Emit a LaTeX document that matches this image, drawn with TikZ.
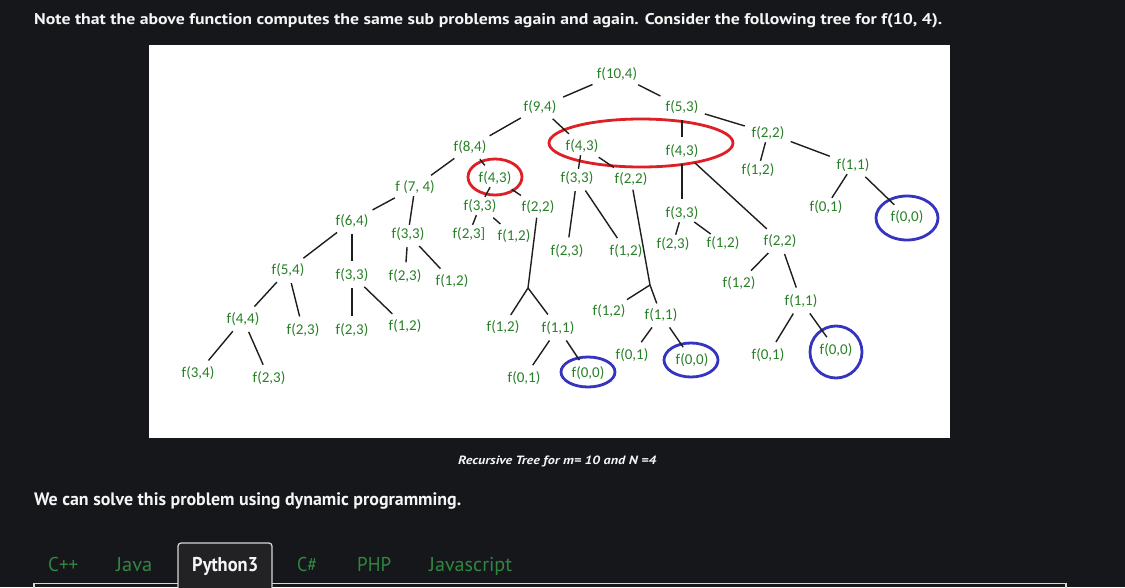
\documentclass[tikz,border=0pt]{standalone}
\usepackage{fontspec}
\usepackage{graphicx}
\setmainfont{PT Sans}
\newfontfamily\treefont{Carlito}
\newfontfamily\uifont{PT Sans}
\newcommand{\mywidthfit}[2]{\resizebox{#1}{\height}{#2}}
\definecolor{bgcol}{RGB}{22,23,27}
\definecolor{uiwhite}{RGB}{245,245,245}
\definecolor{tabgreen}{RGB}{48,135,66}
\definecolor{tabfill}{RGB}{34,34,37}
\definecolor{tabline}{RGB}{215,215,215}
\definecolor{treegreen}{RGB}{40,128,40}
\definecolor{edgecol}{RGB}{30,30,30}
\definecolor{ringred}{RGB}{222,32,38}
\definecolor{ringblue}{RGB}{52,52,192}
\tikzset{
  lab/.style={inner sep=2pt, text=treegreen, font=\treefont\fontsize{15}{17}\selectfont},
  edge/.style={draw=edgecol, line width=1.4pt, shorten <=4.5pt, shorten >=5pt},
  shortedge/.style={draw=edgecol, line width=1.4pt, shorten <=0.5pt, shorten >=0.5pt},
  jedge/.style={draw=edgecol, line width=1.4pt},
  redring/.style={draw=ringred, line width=2.8pt},
  bluering/.style={draw=ringblue, line width=2.8pt},
  uitext/.style={inner sep=0pt, anchor=base west, text=uiwhite},
  tabtext/.style={inner sep=0pt, anchor=base west, text=tabgreen, font=\uifont\fontsize{20}{22}\selectfont},
}
\begin{document}
\begin{tikzpicture}[x=1pt,y=-1pt]
\useasboundingbox (0,0) rectangle (1125,587);
\fill[bgcol] (0,0) rectangle (1125,587);
\fill[white] (149,45) rectangle (950,438);

% header texts
\node[uitext] (title) at (34,24) {\mywidthfit{908pt}{\bfseries\fontsize{15.5}{18}\selectfont Note that the above function computes the same sub problems again and again. Consider the following tree for f(10, 4).}};
\node[uitext] (caption) at (458,464) {\mywidthfit{198pt}{\bfseries\itshape\fontsize{12}{14}\selectfont Recursive Tree for m= 10 and N =4}};
\node[uitext] (dp) at (34,505) {\mywidthfit{427pt}{\bfseries\fontsize{18}{20}\selectfont We can solve this problem using dynamic programming.}};

% tabs
\draw[tabline, line width=1.2pt] (34,595) -- (34,583.5) -- (178,583.5);
\filldraw[draw=tabline, fill=tabfill, line width=1.2pt, rounded corners=3pt] (178,590) -- (178,543) -- (272,543) -- (272,590);
\draw[tabline, line width=1.2pt] (272,583.5) -- (1066,583.5) -- (1066,595);
\node[tabtext] (tcpp) at (48,571) {\mywidthfit{30pt}{C++}};
\node[tabtext] (tjava) at (116,571) {\mywidthfit{36pt}{Java}};
\node[uitext] (tpy) at (192,571) {\mywidthfit{66pt}{\bfseries\fontsize{20}{22}\selectfont Python3}};
\node[tabtext] (tcs) at (297,571) {\mywidthfit{20pt}{C\#}};
\node[tabtext] (tphp) at (357,571) {\mywidthfit{34pt}{PHP}};
\node[tabtext] (tjs) at (429,571) {\mywidthfit{83pt}{Javascript}};

% tree labels
\node[lab] (n104) at (617,74) {f(10,4)};
\node[lab] (n94) at (540,107) {f(9,4)};
\node[lab] (n53) at (682,107) {f(5,3)};
\node[lab] (n84) at (470,147) {f(8,4)};
\node[lab] (a43) at (582,146) {f(4,3)};
\node[lab] (b43) at (682,151) {f(4,3)};
\node[lab] (c22) at (768,133) {f(2,2)};
\node[lab] (c12) at (758,170) {f(1,2)};
\node[lab] (c11) at (853,165) {f(1,1)};
\node[lab] (c01) at (826,207) {f(0,1)};
\node[lab] (c00) at (907,217) {f(0,0)};
\node[lab] (n74) at (415,187) {f (7, 4)};
\node[lab] (s43) at (495,178) {f(4,3)};
\node[lab] (a33) at (577,178) {f(3,3)};
\node[lab] (a22) at (631,179) {f(2,2)};
\node[lab] (s33) at (480,206) {f(3,3)};
\node[lab] (s22) at (538,207) {f(2,2)};
\node[lab] (n64) at (352,221) {f(6,4)};
\node[lab] (b33) at (682,213) {f(3,3)};
\node[lab] (t33) at (408,234) {f(3,3)};
\node[lab] (s23) at (469,234) {f(2,3]};
\node[lab] (s12) at (514,236) {f(1,2)};
\node[lab] (a23) at (567,251) {f(2,3)};
\node[lab] (a12) at (626,251) {f(1,2)};
\node[lab] (b23) at (673,244) {f(2,3)};
\node[lab] (b12) at (723,243) {f(1,2)};
\node[lab] (b22) at (780,241) {f(2,2)};
\node[lab] (n54) at (288,270) {f(5,4)};
\node[lab] (u33) at (352,275) {f(3,3)};
\node[lab] (t23) at (405,276) {f(2,3)};
\node[lab] (t12) at (452,281) {f(1,2)};
\node[lab] (d12) at (739,283) {f(1,2)};
\node[lab] (a12b) at (609,311) {f(1,2)};
\node[lab] (a11) at (661,315) {f(1,1)};
\node[lab] (d11) at (801,301) {f(1,1)};
\node[lab] (n44) at (243,319) {f(4,4)};
\node[lab] (n23) at (303,330) {f(2,3)};
\node[lab] (u23) at (352,330) {f(2,3)};
\node[lab] (u12) at (405,326) {f(1,2)};
\node[lab] (s12b) at (503,327) {f(1,2)};
\node[lab] (s11) at (558,328) {f(1,1)};
\node[lab] (a01) at (632,355) {f(0,1)};
\node[lab] (a00) at (692,360) {f(0,0)};
\node[lab] (d01) at (768,355) {f(0,1)};
\node[lab] (d00) at (836,350) {f(0,0)};
\node[lab] (n34) at (198,373) {f(3,4)};
\node[lab] (m23) at (269,378) {f(2,3)};
\node[lab] (s01) at (524,378) {f(0,1)};
\node[lab] (s00) at (588,373) {f(0,0)};

\coordinate (j1) at (528,288);
\coordinate (j2) at (650,285);

% rings
\draw[redring] (641,143) ellipse [x radius=92pt, y radius=24pt];
\draw[redring] (495,177) ellipse [x radius=27pt, y radius=18pt];
\draw[bluering] (907,218) ellipse [x radius=31pt, y radius=22pt];
\draw[bluering] (691,360) ellipse [x radius=27pt, y radius=17pt];
\draw[bluering] (588,372) ellipse [x radius=27pt, y radius=15pt];
\draw[bluering] (836,352) circle [radius=26pt];

% edges
\foreach \p/\c in {n104/n94, n104/n53, n94/n84, n94/a43, n53/b43, n53/c22,
  c22/c11, c11/c00, n84/n74, n84/s43, a43/a22,
  b43/b33, b43/b22, n74/n64, s43/s22, a33/a23, a33/a12,
  b22/d12, b22/d11, d11/d01, d11/d00, a11/a01, a11/a00,
  s11/s01, s11/s00, n64/n54, n64/u33, t33/t23, t33/t12, s33/s12,
  n54/n44, n54/n23, u33/u23, u33/u12, n44/n34, n44/m23}
  \draw[edge] (\p) -- (\c);
\foreach \p/\c in {a43/a33, s43/s33, s33/s23, b33/b23, b33/b12, c22/c12, c11/c01, n74/t33}
  \draw[shortedge] (\p) -- (\c);
\draw[jedge, shorten <=2pt] (s22) -- (j1);
\draw[jedge, shorten >=4pt] (j1) -- (s12b);
\draw[jedge, shorten >=6pt] (j1) -- (s11);
\draw[jedge, shorten <=2pt] (a22) -- (j2);
\draw[jedge, shorten >=5pt] (j2) -- (a12b);
\draw[jedge, shorten >=3pt] (j2) -- (a11);
\end{tikzpicture}
\end{document}
